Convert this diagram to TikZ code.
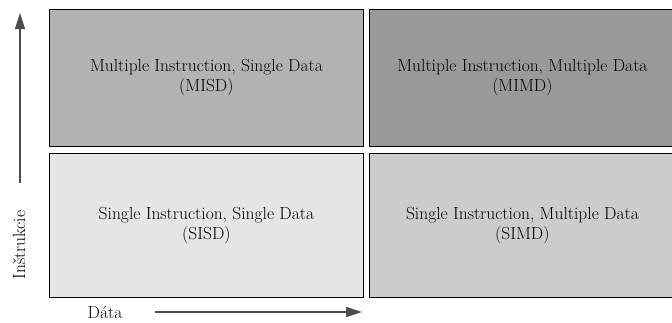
\documentclass[tikz,border=0pt]{standalone}
\usepackage{fontspec}
\usetikzlibrary{arrows.meta}

\begin{document}
\begin{tikzpicture}[x=1pt,y=-1pt,align=center,
	cell/.style={draw,line width=0.8pt,anchor=north west,inner sep=0pt,font=\fontsize{17.5}{20}\selectfont},
	axis/.style={-{Triangle[length=16pt,width=10pt]},line width=1.2pt,black!70},
	label/.style={font=\fontsize{17.5}{20}\selectfont}]
	\useasboundingbox (0,0) rectangle (672,322);
	% quadrants
	\node[cell,fill=black!30,minimum width=314pt,minimum height=137pt] (misd) at (49,9) {Multiple Instruction, Single Data\\(MISD)};
	\node[cell,fill=black!40,minimum width=306pt,minimum height=137pt] (mimd) at (369,9) {Multiple Instruction, Multiple Data\\(MIMD)};
	\node[cell,fill=black!10,minimum width=314pt,minimum height=144pt] (sisd) at (49,153) {Single Instruction, Single Data\\(SISD)};
	\node[cell,fill=black!20,minimum width=306pt,minimum height=144pt] (simd) at (369,153) {Single Instruction, Multiple Data\\(SIMD)};
	% axes
	\coordinate (ystart) at (20,183);
	\coordinate (yend) at (20,13);
	\draw[axis] (ystart) -- (yend);
	\node[label,rotate=90] (instr) at (19,245) {Inštrukcie};
	\coordinate (xstart) at (155,312);
	\coordinate (xend) at (362,312);
	\draw[axis] (xstart) -- (xend);
	\node[label] (data) at (105,312) {Dáta};
\end{tikzpicture}
\end{document}
